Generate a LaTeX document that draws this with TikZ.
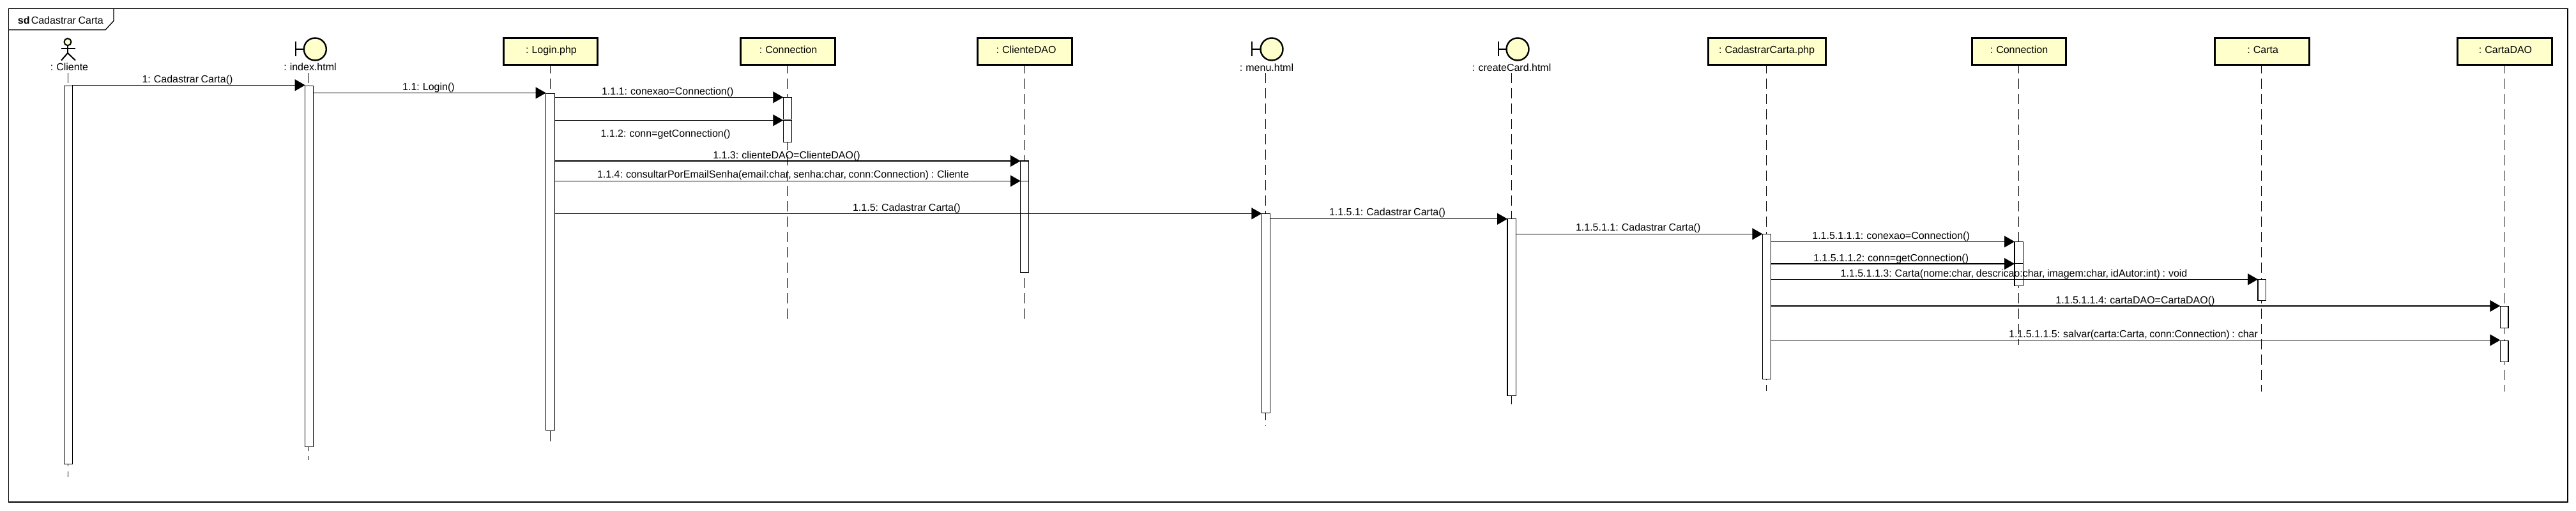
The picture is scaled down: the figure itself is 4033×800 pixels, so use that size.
\documentclass[tikz,border=0pt]{standalone}
\usepackage{fontspec}
\setmainfont[WordSpace=0.8]{Liberation Sans}
\usetikzlibrary{arrows.meta,fit}
\definecolor{umlyellow}{RGB}{255,255,204}
\tikzset{
  x=1pt,y=-1pt,
  lbl/.style={inner sep=0pt,anchor=base,yshift=-5.7pt,font=\fontsize{16}{18}\selectfont,text=black},
  objbox/.style={draw=black,line width=3pt,fill=umlyellow,inner sep=0pt,outer sep=0pt},
  actbox/.style={draw=black,line width=1.2pt,fill=white,inner sep=0pt,outer sep=0pt},
  lifeline/.style={draw=black,line width=1pt,dash pattern=on 16pt off 8pt},
  msg/.style={draw=black,line width=1.2pt,-{Triangle[length=16pt,width=18pt,fill=black]}},
  bound/.style={circle,draw=black,line width=2.4pt,fill=umlyellow,minimum size=35pt,inner sep=0pt,outer sep=0pt},
  stick/.style={draw=black,line width=2pt},
  framebox/.style={draw=black,line width=1.3pt,inner sep=0pt,outer sep=0pt},
}
\newcommand\objbox[7]{% name x1 x2 text-x text lifeline-x end-y
  \node[objbox,fit={(#2,60)(#3,101)}] (b#1) {};
  \node[lbl] (t#1) at (#4,77.3) {#5};
  \coordinate (s#1) at (#6,101);
  \coordinate (e#1) at (#6,#7);
  \draw[lifeline,dash phase=2pt] (s#1) -- (e#1);
}
\newcommand\bnd[6]{% name circle-x bar-x text-x text lifeline-x
  \node[bound] (c#1) at (#2,77) {};
  \coordinate (bt#1) at (#3,65);
  \coordinate (bb#1) at (#3,87.5);
  \coordinate (bm#1) at (#3,77);
  \draw[stick] (bt#1) -- (bb#1);
  \draw[stick] (bm#1) -- (c#1.west);
  \node[lbl] (t#1) at (#4,#5) {#6};
}
\newcommand\act[5]{\node[actbox,fit={(#2,#4)(#3,#5)}] (#1) {};}
\newcommand\msgline[6]{% from to y label-x label-y text
  \draw[msg] (#1.east |- 0,#3) -- (#2.west |- 0,#3);
  \node[lbl] at (#4,#5) {#6};
}
\begin{document}
\begin{tikzpicture}
\useasboundingbox (0,0) rectangle (4033,800);
\fill[white] (0,0) rectangle (4033,800);

% frame
\node[framebox,fit={(13.4,13.5)(4020,786)}] (frame) {};
\coordinate (tabA) at (13.4,46.7);
\coordinate (tabB) at (165,46.7);
\coordinate (tabC) at (178,32.7);
\coordinate (tabD) at (178,13.5);
\draw[draw=black,line width=1.3pt] (tabA) -- (tabB) -- (tabC) -- (tabD);
\node[lbl,anchor=base west] (title) at (27.7,31.5) {\textbf{sd}\hspace{2.2pt}Cadastrar Carta};

% actor
\node[circle,draw=black,line width=2pt,fill=umlyellow,minimum size=11pt,inner sep=0pt,outer sep=0pt] (head) at (106,65.7) {};
\coordinate (neck) at (106,83);
\coordinate (armL) at (96,75.7);
\coordinate (armR) at (118,75.7);
\coordinate (armM) at (106,75.7);
\coordinate (legL) at (96,94.5);
\coordinate (legR) at (118,94.5);
\draw[stick] (head.south) -- (neck);
\draw[stick] (armL) -- (armR);
\draw[stick] (legL) -- (neck) -- (legR);
\node[lbl] (tCliente) at (108.5,105) {: Cliente};
\coordinate (sCliente) at (106,114);
\coordinate (eCliente) at (106,746.7);
\draw[lifeline] (sCliente) -- (eCliente);

% boundaries
\bnd{Index}{493.3}{462.5}{485.5}{105}{: index.html}
\coordinate (sIndex) at (483.5,114);
\coordinate (eIndex) at (483.5,720);
\draw[lifeline] (sIndex) -- (eIndex);
\bnd{Menu}{1991}{1960}{1983}{106}{: menu.html}
\coordinate (sMenu) at (1981.5,114);
\coordinate (eMenu) at (1981.5,666.7);
\draw[lifeline] (sMenu) -- (eMenu);
\bnd{Create}{2376}{2346}{2366.7}{106}{: createCard.html}
\coordinate (sCreate) at (2366.5,114);
\coordinate (eCreate) at (2366.5,633.3);
\draw[lifeline] (sCreate) -- (eCreate);

% object boxes
\objbox{Login}{788}{935}{863}{: Login.php}{861.3}{692.7}
\objbox{ConnA}{1159}{1307}{1234}{: Connection}{1232.3}{500.7}
\objbox{Cdao}{1530}{1678.6}{1606.5}{: ClienteDAO}{1603}{500.7}
\objbox{Cad}{2674}{2858.5}{2766}{: CadastrarCarta.php}{2765}{612.3}
\objbox{ConnB}{3087}{3234.4}{3161}{: Connection}{3160.2}{539.5}
\objbox{Carta}{3467}{3615}{3542.6}{: Carta}{3540}{613}
\objbox{Kdao}{3847}{3995}{3922.5}{: CartaDAO}{3920}{613}

% activations
\act{aCliente}{100.4}{113.4}{134.3}{726.7}
\act{aIndex}{477.7}{490.6}{134.3}{699.3}
\act{aLogin}{854.7}{868.8}{146.7}{673.3}
\act{aConnA1}{1226.3}{1239.7}{152.3}{186.3}
\act{aConnA2}{1226.3}{1239.7}{188.3}{222.7}
\act{aCdao1}{1597.8}{1610.6}{252}{283.3}
\act{aCdao2}{1597.8}{1610.6}{283.3}{426.3}
\act{aMenu}{1975.4}{1988.4}{334.3}{646.3}
\act{aCreate}{2360}{2373.6}{342.7}{619.3}
\act{aCad}{2759.4}{2772.3}{366.3}{593.7}
\act{aConnB1}{3154}{3167.7}{378.3}{412.7}
\act{aConnB2}{3154}{3167.7}{412.7}{447.3}
\act{aCarta}{3535}{3547.8}{437.3}{470.3}
\act{aKdao1}{3914.3}{3927}{479.3}{513.3}
\act{aKdao2}{3914.3}{3927}{533.7}{566.3}

% messages
\msgline{aCliente}{aIndex}{133.3}{293.5}{123.3}{1: Cadastrar Carta()}
\msgline{aIndex}{aLogin}{145.5}{671}{136}{1.1: Login()}
\msgline{aLogin}{aConnA1}{152.3}{1045.3}{142.7}{1.1.1: conexao=Connection()}
\msgline{aLogin}{aConnA2}{188.3}{1042}{208.7}{1.1.2: conn=getConnection()}
\msgline{aLogin}{aCdao1}{252}{1231.5}{242.3}{1.1.3: clienteDAO=ClienteDAO()}
\msgline{aLogin}{aCdao2}{283.3}{1226}{272.3}{1.1.4: consultarPorEmailSenha(email:char, senha:char, conn:Connection) : Cliente}
\msgline{aLogin}{aMenu}{334.3}{1419.4}{324.7}{1.1.5: Cadastrar Carta()}
\msgline{aMenu}{aCreate}{342.7}{2172}{331.7}{1.1.5.1: Cadastrar Carta()}
\msgline{aCreate}{aCad}{366.3}{2564.7}{355.7}{1.1.5.1.1: Cadastrar Carta()}
\msgline{aCad}{aConnB1}{378.3}{2960.6}{369}{1.1.5.1.1.1: conexao=Connection()}
\msgline{aCad}{aConnB2}{413}{2960.6}{403.7}{1.1.5.1.1.2: conn=getConnection()}
\msgline{aCad}{aCarta}{437.3}{3153}{428}{1.1.5.1.1.3: Carta(nome:char, descricao:char, imagem:char, idAutor:int) : void}
\msgline{aCad}{aKdao1}{479}{3342.9}{470}{1.1.5.1.1.4: cartaDAO=CartaDAO()}
\msgline{aCad}{aKdao2}{532.5}{3340}{522.7}{1.1.5.1.1.5: salvar(carta:Carta, conn:Connection) : char}
\end{tikzpicture}
\end{document}
